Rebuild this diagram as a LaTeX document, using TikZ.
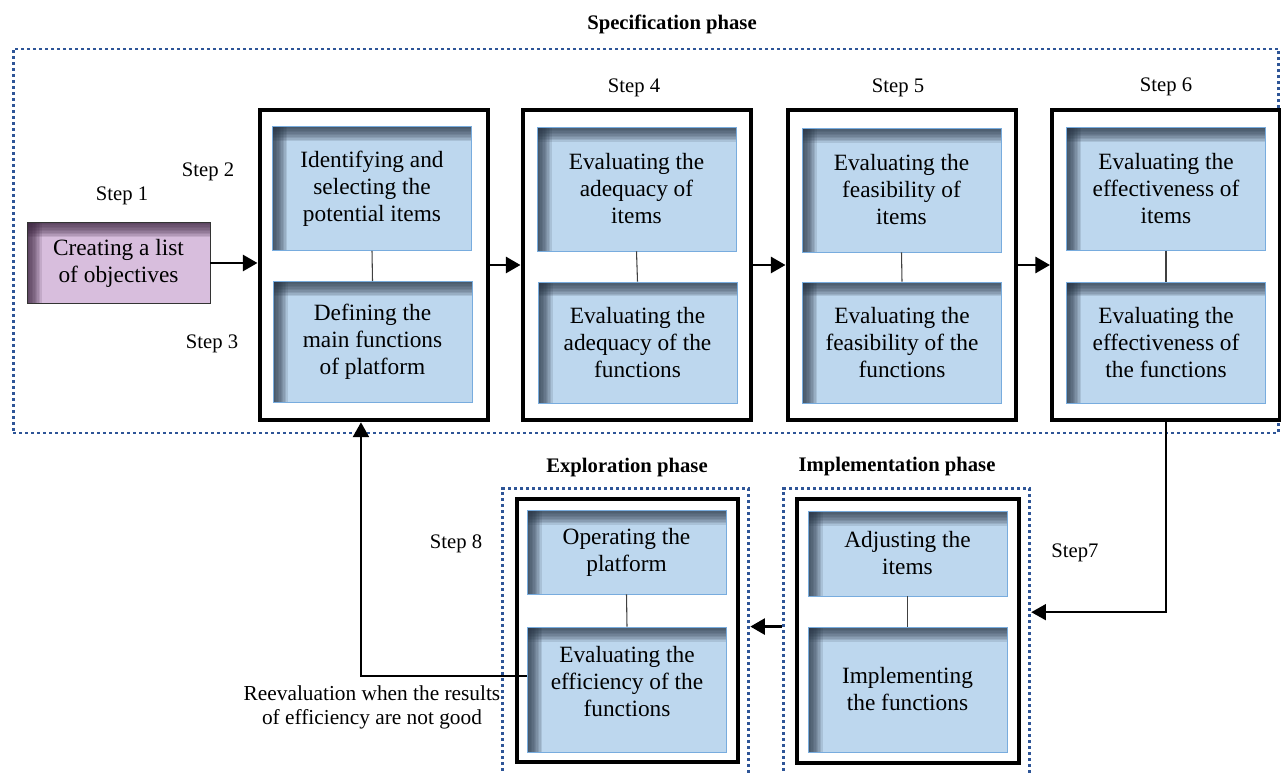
\documentclass[tikz,border=0pt]{standalone}
\usepackage{fontspec}
\setmainfont{Liberation Serif}
\usetikzlibrary{arrows.meta}
\definecolor{itemblue}{RGB}{189,215,238}
\definecolor{itemedge}{RGB}{120,172,222}
\definecolor{itemshade}{RGB}{38,50,66}
\definecolor{goalpink}{RGB}{216,190,221}
\definecolor{goalshade}{RGB}{58,36,62}
\definecolor{phaseblue}{RGB}{46,85,151}
\tikzset{
	inshade/.style = {path picture={
			\foreach \d in {1,...,10}{
				\fill[#1, fill opacity=0.13] (path picture bounding box.north west)
					rectangle ([yshift=-\d*1.1pt]path picture bounding box.north east);
				\fill[#1, fill opacity=0.13] (path picture bounding box.north west)
					rectangle ([xshift=\d*1.1pt]path picture bounding box.south west);
			}
		}},% ombre interieure
	itembox/.style = {rectangle, draw=itemedge, fill=itemblue, align=center,
		inner sep=2pt, minimum width=149pt, font=\fontsize{17.5}{20.25}\selectfont,
		inshade=itemshade},% boite bleue
	goalbox/.style = {itembox, draw=black!80, fill=goalpink, minimum width=137pt,
		minimum height=61pt, inshade=goalshade},% boite violette
	stepframe/.style = {rectangle, draw=black, line width=3pt, fill=white,
		minimum width=171pt, minimum height=233pt},% cadre noir
	phasebox/.style = {rectangle, draw=phaseblue, line width=2.2pt,
		dash pattern=on 2.2pt off 2.3pt},% cadre pointille
	steplabel/.style = {font=\fontsize{15.5}{18}\selectfont, align=center},
	phasetitle/.style = {font=\fontsize{15.5}{18}\selectfont\bfseries},
	link/.style = {draw=black!75, line width=0.8pt}
}

\begin{document}
\begin{tikzpicture}[x=0.75pt,y=-0.75pt,>={Triangle[length=11pt,width=12pt]}]
	\useasboundingbox (0,0) rectangle (1281,773);
	% phases
	\node [phasebox, minimum width=949pt, minimum height=288pt] (spec) at (646,241) {};
	\node [phasebox, minimum width=185pt, minimum height=226pt] (explo) at (625.5,639.5) {};
	\node [phasebox, minimum width=185pt, minimum height=226pt] (impl) at (906.5,639.5) {};
	\node [phasetitle] (tspec) at (672,24) {Specification phase};
	\node [phasetitle] (texplo) at (627,468) {Exploration phase};
	\node [phasetitle] (timpl) at (897,467) {Implementation phase};
	% step 1
	\node [goalbox] (goal) at (118.5,263) {Creating a list\\of objectives};
	% cadres du haut
	\node [stepframe] (f2) at (373.5,265) {};
	\node [stepframe] (f4) at (636.5,265) {};
	\node [stepframe] (f5) at (901.5,265) {};
	\node [stepframe] (f6) at (1166,265) {};
	\node [itembox, minimum height=93pt] (t2) at (372,188.5) {Identifying and\\selecting the\\potential items};
	\node [itembox, minimum height=91pt] (b2) at (372.5,342) {Defining the\\main functions\\of platform};
	\node [itembox, minimum height=93pt] (t4) at (636.5,189) {Evaluating the\\adequacy of\\items};
	\node [itembox, minimum height=91pt] (b4) at (637.5,342.5) {Evaluating the\\adequacy of the\\functions};
	\node [itembox, minimum height=93pt] (t5) at (901.5,190) {Evaluating the\\feasibility of\\items};
	\node [itembox, minimum height=91pt] (b5) at (902,342.5) {Evaluating the\\feasibility of the\\functions};
	\node [itembox, minimum height=92pt] (t6) at (1166,189) {Evaluating the\\effectiveness of\\items};
	\node [itembox, minimum height=91pt] (b6) at (1166,342.5) {Evaluating the\\effectiveness of\\the functions};
	% cadres du bas
	\node [stepframe, minimum width=166pt, minimum height=197pt] (fe) at (627.5,630.5) {};
	\node [stepframe, minimum width=166pt, minimum height=198pt] (fi) at (908,631) {};
	\node [itembox, minimum height=63pt] (etop) at (626.5,552) {Operating the\\platform};
	\node [itembox, minimum height=94pt] (ebot) at (627,689.5) {Evaluating the\\efficiency of the\\functions\\[-7.5pt]};
	\node [itembox, minimum height=64pt] (itop) at (907.5,553.5) {Adjusting the\\items};
	\node [itembox, minimum height=94pt] (ibot) at (907.5,689.5) {Implementing\\the functions};
	% labels
	\node [steplabel] (s1) at (122,196) {Step 1};
	\node [steplabel] (s2) at (208,172) {Step 2};
	\node [steplabel] (s3) at (212,344) {Step 3};
	\node [steplabel] (s4) at (634,88) {Step 4};
	\node [steplabel] (s5) at (898,88) {Step 5};
	\node [steplabel] (s6) at (1166,87) {Step 6};
	\node [steplabel] (s7) at (1075,553) {Step7};
	\node [steplabel] (s8) at (456,544) {Step 8};
	\node [steplabel, font=\fontsize{16}{18}\selectfont] (reval) at (372,707)
		{Reevaluation when the results\\of efficiency are not good};
	% liens
	\foreach \a/\b in {t2/b2,t4/b4,t5/b5,t6/b6,etop/ebot,itop/ibot}
		\draw [link] (\a.south) -- (\b.north);
	\draw [->, line width=2.2pt] (goal.east) -- (goal.east -| f2.west);
	\foreach \a/\b in {f2/f4,f4/f5,f5/f6}
		\draw [->, line width=2.2pt] (\a.east) -- (\b.west);
	\draw [->, line width=2.2pt] (impl.west |- ebot.north) -- (explo.east |- ebot.north);
	\draw [->, line width=1.3pt] (f6.south) |- ([yshift=20.5pt]impl.east);
	\draw [->, line width=1.3pt] ([yshift=10pt]ebot.west) -| ([xshift=-9.4pt]f2.south);
\end{tikzpicture}
\end{document}
